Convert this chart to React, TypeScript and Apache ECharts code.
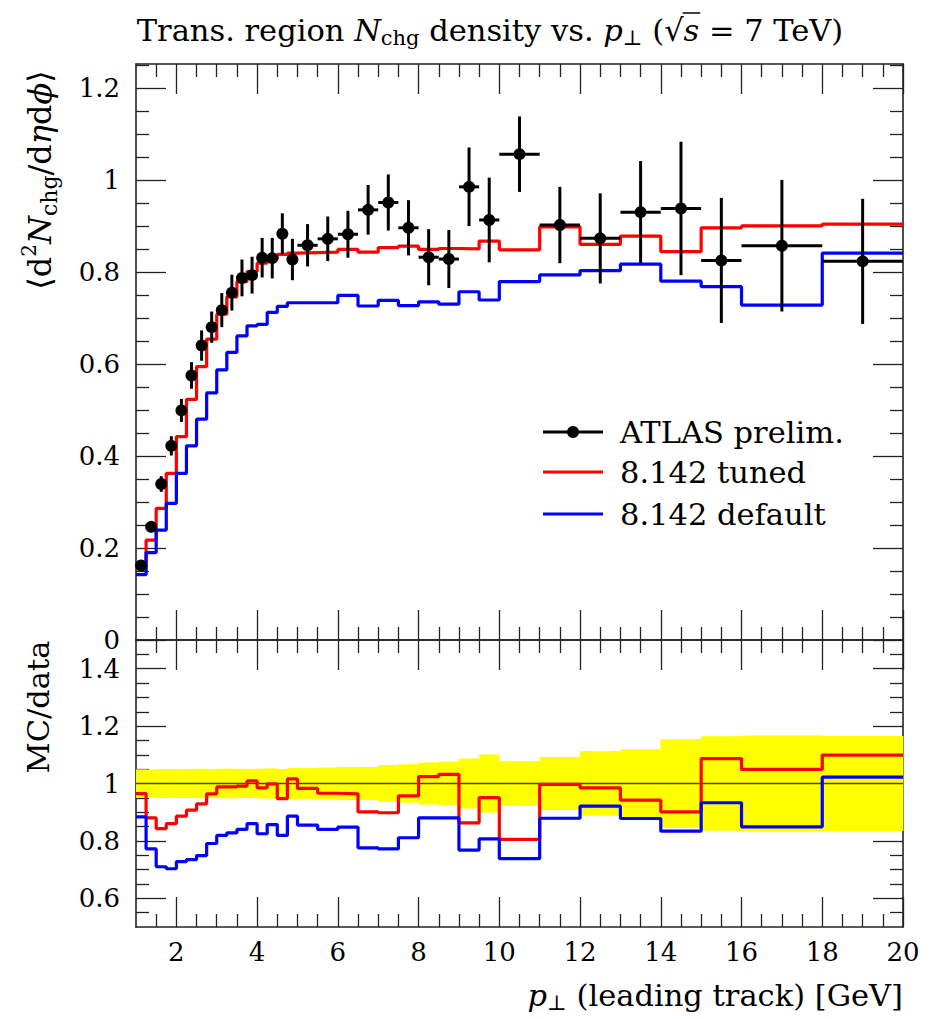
import React, { useEffect, useRef } from "react";
import * as echarts from "echarts";

// ---------------- data ----------------
const binEdges = [
  1, 1.25, 1.5, 1.75, 2, 2.25, 2.5, 2.75, 3, 3.25, 3.5, 3.75, 4, 4.25, 4.5, 4.75, 5,
  5.5, 6, 6.5, 7, 7.5, 8, 8.5, 9, 9.5, 10, 11, 12, 13, 14, 15, 16, 18, 20,
];
const dataValues = [
  0.162, 0.246, 0.339, 0.422, 0.499, 0.575, 0.64, 0.68, 0.717, 0.755, 0.787, 0.793,
  0.831, 0.83, 0.883, 0.827, 0.858, 0.872, 0.882, 0.935, 0.951, 0.896, 0.832, 0.828,
  0.985, 0.913, 1.056, 0.902, 0.873, 0.93, 0.938, 0.825, 0.857, 0.823,
];
const dataErrors = [
  0.008, 0.012, 0.017, 0.021, 0.025, 0.029, 0.033, 0.034, 0.037, 0.039, 0.04, 0.04,
  0.043, 0.044, 0.0445, 0.045, 0.046, 0.0485, 0.051, 0.054, 0.061, 0.06, 0.061, 0.063,
  0.0855, 0.092, 0.082, 0.083, 0.098, 0.111, 0.145, 0.136, 0.143, 0.136,
];
const tunedValues = [
  0.156, 0.217, 0.286, 0.362, 0.442, 0.523, 0.594, 0.654, 0.708, 0.746, 0.779, 0.801,
  0.819, 0.828, 0.838, 0.841, 0.842, 0.843, 0.849, 0.843, 0.853, 0.856, 0.849, 0.851,
  0.85, 0.867, 0.848, 0.898, 0.86, 0.878, 0.844, 0.896, 0.9, 0.904,
];
const defaultValues = [
  0.142, 0.19, 0.239, 0.297, 0.362, 0.422, 0.48, 0.537, 0.587, 0.625, 0.661, 0.683,
  0.686, 0.712, 0.725, 0.733, 0.733, 0.733, 0.749, 0.726, 0.738, 0.727, 0.735, 0.73,
  0.757, 0.739, 0.779, 0.7935, 0.803, 0.817, 0.78, 0.768, 0.728, 0.841,
];
const tunedRatio = [
  0.965, 0.88, 0.843, 0.86, 0.886, 0.907, 0.929, 0.964, 0.988, 0.988, 0.991, 1.009,
  0.985, 0.999, 0.947, 1.016, 0.983, 0.966, 0.964, 0.901, 0.898, 0.957, 1.024, 1.032,
  0.863, 0.951, 0.805, 0.997, 0.985, 0.942, 0.901, 1.087, 1.049, 1.099,
];
const defaultRatio = [
  0.884, 0.772, 0.71, 0.703, 0.728, 0.735, 0.749, 0.791, 0.819, 0.828, 0.84, 0.86,
  0.825, 0.857, 0.819, 0.886, 0.855, 0.84, 0.848, 0.776, 0.772, 0.811, 0.88, 0.88,
  0.768, 0.807, 0.738, 0.879, 0.921, 0.878, 0.834, 0.933, 0.849, 1.022,
];
const xTickLabels = [2, 4, 6, 8, 10, 12, 14, 16, 18, 20];
const yTopTickLabels = [0, 0.2, 0.4, 0.6, 0.8, 1, 1.2];
const yRatioTickLabels = [0.6, 0.8, 1, 1.2, 1.4];

// ---------------- style ----------------
const FONT = '"DejaVu Serif", serif';
const FRAME = "#222";
const RED = "#ff0000";
const BLUE = "#0000ff";
const GRID_L = 136;
const GRID_W = 767;
const TOP_T = 64;
const TOP_H = 576;
const RAT_T = 640;
const RAT_H = 287;

const xMinor: number[] = [];
for (let k = 3; k <= 39; k++) if (k % 4 !== 0) xMinor.push(k / 2);
const yTopMinor: number[] = [];
for (let k = 1; k <= 25; k++) if (k % 4 !== 0) yTopMinor.push(k / 20);
const yRatioMinor: number[] = [];
for (let k = 11; k <= 29; k++) if (k % 4 !== 0) yRatioMinor.push(k / 20);

function histPoints(vals: number[]) {
  const pts: number[][] = [];
  vals.forEach((v, i) => {
    pts.push([binEdges[i], v]);
    pts.push([binEdges[i + 1], v]);
  });
  return pts;
}

const tickStyle = { color: FRAME, width: 1.3 };
const labelStyle = { fontFamily: FONT, fontSize: 26, color: "#000" };

function makeAxes(
  dir: "x" | "y",
  gridIndex: number,
  min: number,
  max: number,
  majors: number[],
  minors: number[],
  labels: boolean,
  labelMargin: number
) {
  const positions = dir === "x" ? ["bottom", "top"] : ["left", "right"];
  const out: any[] = [];
  positions.forEach((pos, pi) => {
    [true, false].forEach((isMajor) => {
      out.push({
        type: "value",
        gridIndex,
        position: pos,
        min,
        max,
        splitLine: { show: false },
        axisLine: { show: isMajor, onZero: false, lineStyle: { color: FRAME, width: 1.6 } },
        axisTick: {
          show: true,
          inside: true,
          length: isMajor ? 30 : 13,
          customValues: isMajor ? majors : minors,
          lineStyle: tickStyle,
        },
        axisLabel:
          labels && isMajor && pi === 0
            ? {
                show: true,
                customValues: majors,
                margin: labelMargin,
                formatter: (v: number) => String(v),
                ...labelStyle,
              }
            : { show: false },
        silent: true,
      });
    });
  });
  return out;
}

// --------- text layout helper (math-like labels built from pieces) ---------
type Seg = { t: string; size: number; italic?: boolean; dy?: number };
let measureCtx: CanvasRenderingContext2D | null = null;
function segFont(s: Seg) {
  return `${s.italic ? "italic " : ""}${s.size}px ${FONT}`;
}
function measure(text: string, font: string) {
  if (!measureCtx) measureCtx = document.createElement("canvas").getContext("2d");
  measureCtx!.font = font;
  return measureCtx!.measureText(text).width;
}
function layoutRow(segs: Seg[], anchorX: number, y: number, align: "left" | "center" | "right") {
  const widths = segs.map((s) => measure(s.t, segFont(s)));
  const total = widths.reduce((a, b) => a + b, 0);
  let x = align === "left" ? anchorX : align === "center" ? anchorX - total / 2 : anchorX - total;
  const els: any[] = [];
  const pos: { x: number; w: number }[] = [];
  segs.forEach((s, i) => {
    const lead = s.t.length - s.t.replace(/^\s+/, "").length;
    const leadW = lead ? measure(" ".repeat(lead), segFont(s)) : 0;
    const txt = s.t.trim();
    if (txt.length) {
      els.push({
        type: "text",
        x: x + leadW,
        y: y + (s.dy || 0),
        silent: true,
        style: {
          text: txt,
          font: segFont(s),
          fill: "#000",
          textAlign: "left",
          textVerticalAlign: "middle",
        },
      });
    }
    pos.push({ x: x + leadW, w: measure(txt, segFont(s)) });
    x += widths[i];
  });
  return { els, pos, total };
}

function buildGraphics() {
  const S = 30.5;
  const SUB = 21;
  const g: any[] = [];

  // title
  const title = layoutRow(
    [
      { t: "Trans. region ", size: S },
      { t: "N", size: S, italic: true },
      { t: "chg", size: SUB, dy: 8 },
      { t: " density vs. ", size: S },
      { t: "p", size: S, italic: true },
      { t: "⊥", size: SUB, dy: 8 },
      { t: " (", size: S },
      { t: "√", size: S },
      { t: "s", size: S, italic: true },
      { t: " = 7 TeV)", size: S },
    ],
    490,
    30,
    "center"
  );
  g.push(...title.els);
  const sPos = title.pos[8];
  const rootPos = title.pos[7];
  g.push({
    type: "line",
    silent: true,
    shape: { x1: rootPos.x + rootPos.w - 1, y1: 13, x2: sPos.x + sPos.w + 1, y2: 13 },
    style: { stroke: "#000", lineWidth: 1.5 },
  });

  // x axis name
  const xName = layoutRow(
    [
      { t: "p", size: S, italic: true },
      { t: "⊥", size: SUB, dy: 8 },
      { t: " (leading track) [GeV]", size: S },
    ],
    903,
    995,
    "right"
  );
  g.push(...xName.els);

  // y axis name (top)
  const Y = 32;
  const yName = layoutRow(
    [
      { t: "⟨d", size: Y },
      { t: "2", size: 20, dy: -11 },
      { t: "N", size: Y, italic: true },
      { t: "chg", size: 22, dy: 9 },
      { t: "/d", size: Y },
      { t: "η", size: Y, italic: true },
      { t: "d", size: Y },
      { t: "ϕ", size: Y, italic: true },
      { t: "⟩", size: Y },
    ],
    0,
    0,
    "center"
  );
  g.push({ type: "group", x: 40, y: 180, rotation: Math.PI / 2, silent: true, children: yName.els });

  // y axis name (ratio)
  const rName = layoutRow([{ t: "MC/data", size: S }], 0, 0, "center");
  g.push({ type: "group", x: 38, y: 707, rotation: Math.PI / 2, silent: true, children: rName.els });

  // legend
  const legendRows = [
    { y: 432, color: "#000", label: "ATLAS prelim.", dot: true },
    { y: 472, color: RED, label: "8.142 tuned", dot: false },
    { y: 514, color: BLUE, label: "8.142 default", dot: false },
  ];
  legendRows.forEach((r) => {
    g.push({
      type: "line",
      silent: true,
      shape: { x1: 543, y1: r.y, x2: 603, y2: r.y },
      style: { stroke: r.color, lineWidth: 3.2 },
    });
    if (r.dot)
      g.push({ type: "circle", silent: true, shape: { cx: 573, cy: r.y, r: 6 }, style: { fill: "#000" } });
    g.push(...layoutRow([{ t: r.label, size: S }], 620, r.y, "left").els);
  });
  return g;
}

function buildOption() {
  const xAxes = [
    ...makeAxes("x", 0, 1, 20, xTickLabels, xMinor, false, 12),
    ...makeAxes("x", 1, 1, 20, xTickLabels, xMinor, true, 12),
  ];
  const yAxes = [
    ...makeAxes("y", 0, 0, 1.252, yTopTickLabels, yTopMinor, true, 16),
    ...makeAxes("y", 1, 0.5, 1.5, yRatioTickLabels, yRatioMinor, true, 16),
  ];

  const bandData = dataValues.map((v, i) => [binEdges[i], binEdges[i + 1], dataErrors[i] / v]);
  const pointData = dataValues.map((v, i) => [binEdges[i], binEdges[i + 1], v, dataErrors[i]]);

  const lineBase = {
    type: "line",
    showSymbol: false,
    symbol: "none",
    silent: true,
    emphasis: { disabled: true },
  };

  return {
    animation: false,
    backgroundColor: "#fff",
    grid: [
      { left: GRID_L, top: TOP_T, width: GRID_W, height: TOP_H },
      { left: GRID_L, top: RAT_T, width: GRID_W, height: RAT_H },
    ],
    xAxis: xAxes,
    yAxis: yAxes,
    graphic: { elements: buildGraphics() },
    series: [
      {
        type: "custom",
        name: "data uncertainty",
        xAxisIndex: 4,
        yAxisIndex: 4,
        silent: true,
        data: bandData,
        renderItem: (params: any, api: any) => {
          const lo = api.value(0);
          const hi = api.value(1);
          const r = api.value(2);
          const p1 = api.coord([lo, 1 + r]);
          const p2 = api.coord([hi, 1 - r]);
          return {
            type: "rect",
            shape: { x: p1[0], y: p1[1], width: p2[0] - p1[0] + 0.4, height: p2[1] - p1[1] },
            style: { fill: "#ffff00" },
          };
        },
      },
      {
        ...lineBase,
        name: "unity",
        xAxisIndex: 4,
        yAxisIndex: 4,
        data: [
          [1, 1],
          [20, 1],
        ],
        lineStyle: { color: "#444", width: 1.6 },
      },
      {
        ...lineBase,
        name: "8.142 tuned / data",
        xAxisIndex: 4,
        yAxisIndex: 4,
        data: histPoints(tunedRatio),
        lineStyle: { color: RED, width: 3.2 },
        itemStyle: { color: RED },
      },
      {
        ...lineBase,
        name: "8.142 default / data",
        xAxisIndex: 4,
        yAxisIndex: 4,
        data: histPoints(defaultRatio),
        lineStyle: { color: BLUE, width: 3.2 },
        itemStyle: { color: BLUE },
      },
      {
        ...lineBase,
        name: "8.142 tuned",
        xAxisIndex: 0,
        yAxisIndex: 0,
        data: histPoints(tunedValues),
        lineStyle: { color: RED, width: 3.2 },
        itemStyle: { color: RED },
      },
      {
        ...lineBase,
        name: "8.142 default",
        xAxisIndex: 0,
        yAxisIndex: 0,
        data: histPoints(defaultValues),
        lineStyle: { color: BLUE, width: 3.2 },
        itemStyle: { color: BLUE },
      },
      {
        type: "custom",
        name: "ATLAS prelim.",
        xAxisIndex: 0,
        yAxisIndex: 0,
        silent: true,
        z: 5,
        data: pointData,
        renderItem: (params: any, api: any) => {
          const lo = api.value(0);
          const hi = api.value(1);
          const y = api.value(2);
          const e = api.value(3);
          const c = (lo + hi) / 2;
          const pL = api.coord([lo, y]);
          const pR = api.coord([hi, y]);
          const pT = api.coord([c, y + e]);
          const pB = api.coord([c, y - e]);
          const pC = api.coord([c, y]);
          const st = { stroke: "#000", lineWidth: 3 };
          return {
            type: "group",
            children: [
              { type: "line", shape: { x1: pL[0], y1: pL[1], x2: pR[0], y2: pR[1] }, style: st },
              { type: "line", shape: { x1: pT[0], y1: pT[1], x2: pB[0], y2: pB[1] }, style: st },
              { type: "circle", shape: { cx: pC[0], cy: pC[1], r: 6 }, style: { fill: "#000" } },
            ],
          };
        },
      },
    ],
  };
}

export default function App() {
  const ref = useRef<HTMLDivElement>(null);
  useEffect(() => {
    const chart = echarts.init(ref.current!, null, { renderer: "svg" });
    chart.setOption(buildOption() as any);
    return () => chart.dispose();
  }, []);
  return (
    <div
      ref={ref}
      style={{ position: "fixed", left: 0, top: 0, width: 943, height: 1019, background: "#fff" }}
    />
  );
}
